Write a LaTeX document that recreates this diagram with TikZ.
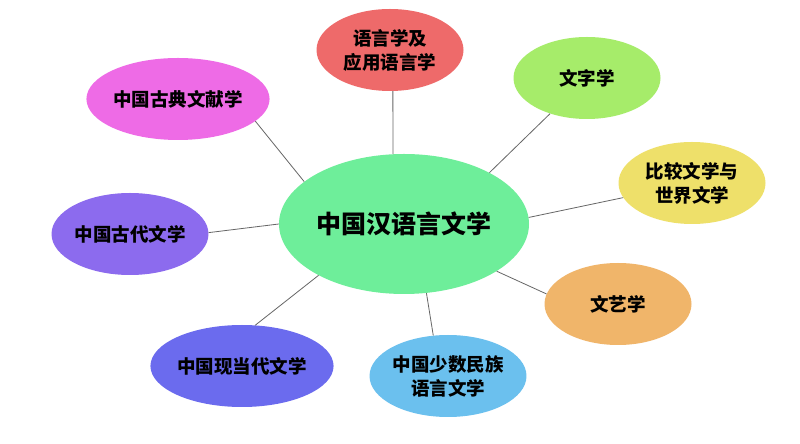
\documentclass[tikz,border=0pt]{standalone}
\usepackage{fontspec}
\usepackage{tikz}
\usetikzlibrary{shapes.geometric}
\newfontfamily\cjk{Noto Sans CJK SC}
\definecolor{cgreen}{HTML}{6EEE9A}
\definecolor{cred}{HTML}{EE6A6A}
\definecolor{clime}{HTML}{A6EC6A}
\definecolor{cyellow}{HTML}{EEE06A}
\definecolor{corange}{HTML}{F0B56A}
\definecolor{cblue}{HTML}{6BC0EE}
\definecolor{cindigo}{HTML}{6B6BEE}
\definecolor{cpurple}{HTML}{8C6BEE}
\definecolor{cmagenta}{HTML}{EE6BE6}
\definecolor{linec}{HTML}{666666}
\tikzset{
  bubble/.style={ellipse, inner sep=0pt, minimum width=147pt, minimum height=82pt,
    align=center, font=\cjk\bfseries\fontsize{18.5}{24}\selectfont, text=black},
  hub/.style={ellipse, inner sep=0pt, minimum width=250pt, minimum height=140pt,
    fill=cgreen, font=\cjk\bfseries\fontsize{25}{30}\selectfont, text=black},
  link/.style={draw=linec, line width=0.8pt}
}
\begin{document}
\begin{tikzpicture}[x=1pt,y=1pt]
\useasboundingbox[fill=white] (0,0) rectangle (800,444);
\node[hub] (c) at (404,220) {中国汉语言文学};
\node[bubble, fill=cred] (ling) at (390,394) {语言学及\\应用语言学};
\node[bubble, fill=clime] (wz) at (587,366) {文字学};
\node[bubble, fill=cyellow] (bj) at (692,261) {比较文学与\\世界文学};
\node[bubble, fill=corange] (wy) at (618,140) {文艺学};
\node[bubble, fill=cblue] (ss) at (448,68) {中国少数民族\\语言文学};
\node[bubble, fill=cindigo] (xd) at (242,78) {中国现当代文学};
\node[bubble, fill=cpurple] (gd) at (130,210) {中国古代文学};
\node[bubble, fill=cmagenta] (wx) at (178,345) {中国古典文献学};
\draw[link] (c.99) -- (ling.-86);
\draw[link] (c.31) -- (wz.-136.5);
\draw[link] (c.3.7) -- (bj.-168);
\draw[link] (c.-27.8) -- (wy.172);
\draw[link] (c.-72.8) -- (ss.110);
\draw[link] (c.-149.3) -- (xd.72.4);
\draw[link] (c.180) -- (gd.1.6);
\draw[link] (c.157.4) -- (wx.-16.3);
\end{tikzpicture}
\end{document}
